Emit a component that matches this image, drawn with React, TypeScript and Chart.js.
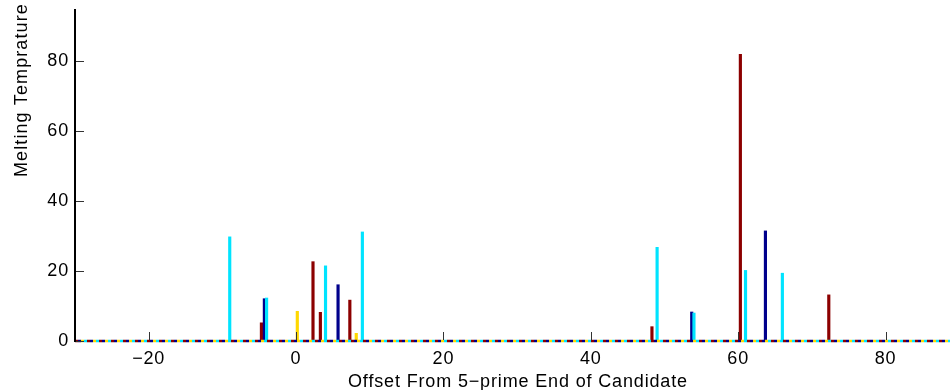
import React, { useEffect, useRef } from "react";
import { Chart, registerables } from "chart.js";

Chart.register(...registerables);

// Offsets (x) and melting temperatures (y) per series
const cyanX = [-9, -4, 4, 9, 49, 54, 61, 66];
const cyanY = [29.8, 12.3, 21.5, 31.2, 26.8, 8.0, 20.2, 19.4];
const navyX = [-4.3, 5.7, 53.7, 63.7];
const navyY = [12.1, 16.1, 8.3, 31.5];
const darkRedX = [-4.7, 2.3, 3.3, 7.3, 48.3, 60.3, 72.3];
const darkRedY = [5.2, 22.7, 8.2, 11.7, 4.1, 82.0, 13.2];
const yellowX = [0.17, 8.17];
const yellowY = [8.5, 2.2];

const xTicks = [-20, 0, 20, 40, 60, 80];
const yTicks = [0, 20, 40, 60, 80];

const X_MIN = -30;
const X_MAX = 88.75;
const Y_MIN = 0;
const Y_MAX = 95;

const X_TITLE = "Offset From 5\u2212prime End of Candidate";
const Y_TITLE = "Melting Temprature";

const COLORS = {
  cyan: "#00E4FF",
  navy: "#00008C",
  darkRed: "#8C0000",
  yellow: "#FFD800",
};

const FONT_FAMILY = "'Liberation Sans', Arial, Helvetica, sans-serif";

const pts = (xs: number[], ys: number[]) => xs.map((x, i) => ({ x, y: ys[i] }));

const decorPlugin = {
  id: "decor",
  beforeDraw(chart: any) {
    (chart.ctx as any).letterSpacing = "0.85px";
  },
  afterDatasetsDraw(chart: any) {
    const ctx = chart.ctx as CanvasRenderingContext2D;
    const { left, right, top } = chart.chartArea;
    const xs = chart.scales.x;
    const ys = chart.scales.y;
    const y0 = ys.getPixelForValue(0);
    ctx.save();
    // multi-colored dashed baseline
    const cols = [COLORS.darkRed, COLORS.navy, COLORS.yellow, COLORS.cyan];
    ctx.lineWidth = 2.5;
    cols.forEach((c, i) => {
      ctx.strokeStyle = c;
      ctx.setLineDash([3, 9]);
      ctx.lineDashOffset = -i * 3;
      ctx.beginPath();
      ctx.moveTo(left, y0);
      ctx.lineTo(right, y0);
      ctx.stroke();
    });
    ctx.setLineDash([]);
    // left axis line
    ctx.fillStyle = "#000";
    ctx.fillRect(left - 1, top, 2, y0 - top + 1);
    // inward ticks
    ctx.strokeStyle = "#333";
    ctx.lineWidth = 1;
    xTicks.forEach((v) => {
      const px = Math.round(xs.getPixelForValue(v)) + 0.5;
      ctx.beginPath();
      ctx.moveTo(px, y0 - 1);
      ctx.lineTo(px, y0 - 9);
      ctx.stroke();
    });
    yTicks.forEach((v) => {
      const py = Math.round(ys.getPixelForValue(v)) + 0.5;
      ctx.beginPath();
      ctx.moveTo(left + 1, py);
      ctx.lineTo(left + 9, py);
      ctx.stroke();
    });
    // titles
    ctx.fillStyle = "#000";
    ctx.font = `18px ${FONT_FAMILY}`;
    (ctx as any).letterSpacing = "0.85px";
    ctx.textAlign = "left";
    ctx.textBaseline = "alphabetic";
    ctx.fillText(X_TITLE, 348, 386.5);
    ctx.translate(27, 177);
    ctx.rotate(-Math.PI / 2);
    (ctx as any).letterSpacing = "1.1px";
    ctx.fillText(Y_TITLE, 0, 0);
    ctx.restore();
  },
  afterDraw(chart: any) {
    (chart.ctx as any).letterSpacing = "0px";
  },
};

export default function App() {
  const canvasRef = useRef<HTMLCanvasElement | null>(null);

  useEffect(() => {
    if (!canvasRef.current) return;
    const mk = (label: string, xs: number[], ys: number[], color: string) => ({
      label,
      data: pts(xs, ys),
      backgroundColor: color,
      borderWidth: 0,
      barThickness: 2.5,
      grouped: false,
    });
    const chart = new Chart(canvasRef.current, {
      type: "bar",
      data: {
        datasets: [
          mk("cyan", cyanX, cyanY, COLORS.cyan),
          mk("navy", navyX, navyY, COLORS.navy),
          mk("darkred", darkRedX, darkRedY, COLORS.darkRed),
          mk("yellow", yellowX, yellowY, COLORS.yellow),
        ] as any,
      },
      options: {
        animation: false,
        responsive: false,
        devicePixelRatio: 1,
        layout: { padding: { top: 9, left: 0, right: 0, bottom: 0 } },
        plugins: {
          legend: { display: false },
          tooltip: { enabled: false },
          title: { display: false },
        },
        scales: {
          x: {
            type: "linear",
            min: X_MIN,
            max: X_MAX,
            offset: false,
            grid: { display: false, drawTicks: false },
            border: { display: false },
            ticks: {
              stepSize: 20,
              includeBounds: false,
              padding: 7,
              color: "#000",
              maxRotation: 0,
              autoSkip: false,
              font: { family: FONT_FAMILY, size: 18 },
              callback: (v: any) => (v < 0 ? "\u2212" + Math.abs(v) : String(v)),
            },
            afterFit: (s: any) => {
              s.height = 49;
              s.paddingLeft = 0;
              s.paddingRight = 0;
              s.paddingTop = 0;
              s.paddingBottom = 0;
            },
          },
          y: {
            type: "linear",
            min: Y_MIN,
            max: Y_MAX,
            grid: { display: false, drawTicks: false },
            border: { display: false },
            ticks: {
              stepSize: 20,
              includeBounds: false,
              padding: 6,
              color: "#000",
              font: { family: FONT_FAMILY, size: 18 },
            },
            afterFit: (s: any) => {
              s.width = 75;
              s.paddingLeft = 0;
              s.paddingRight = 0;
              s.paddingTop = 0;
              s.paddingBottom = 0;
            },
          },
        },
      } as any,
      plugins: [decorPlugin],
    });
    return () => chart.destroy();
  }, []);

  return (
    <div style={{ position: "absolute", left: 0, top: 0, width: 950, height: 390, background: "#fff" }}>
      <canvas ref={canvasRef} width={950} height={390} style={{ width: 950, height: 390, display: "block" }} />
    </div>
  );
}
